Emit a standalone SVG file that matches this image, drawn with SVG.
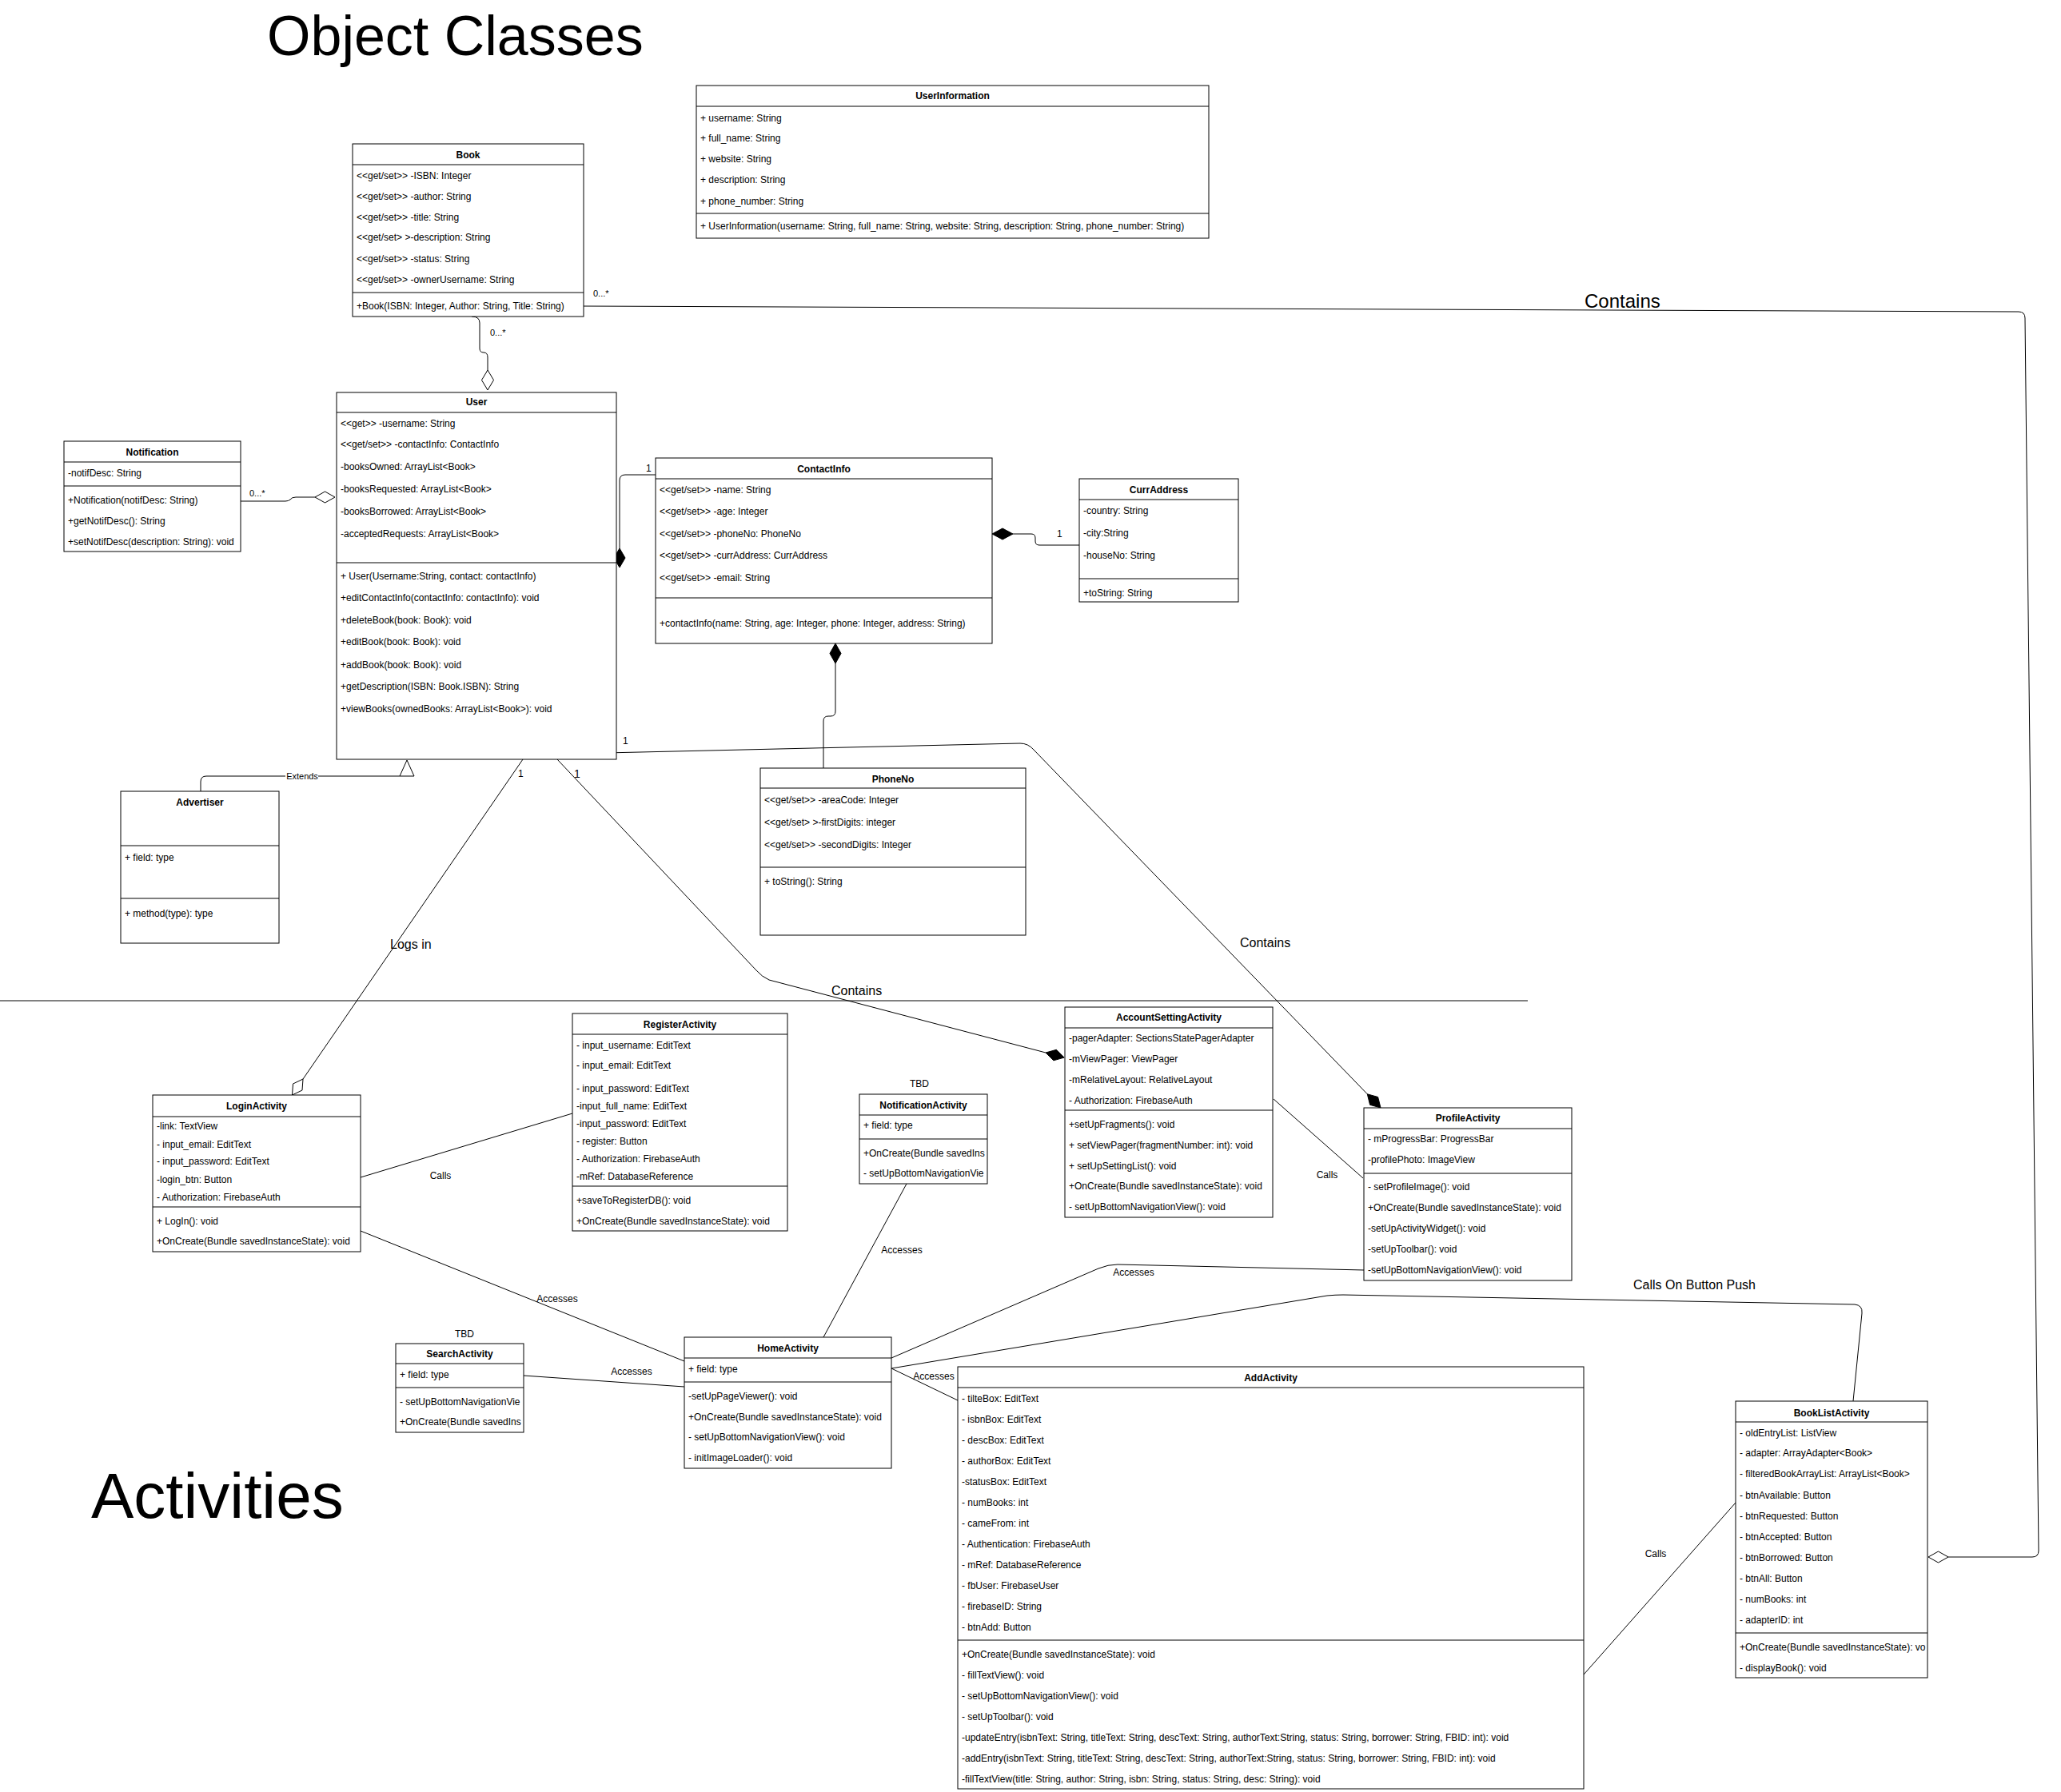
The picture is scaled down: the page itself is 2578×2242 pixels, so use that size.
<svg xmlns="http://www.w3.org/2000/svg" width="2578" height="2242" viewBox="0 0 2578 2242">
<style>
text{font-family:"Liberation Sans",Arial,Helvetica,sans-serif;font-size:12px;fill:#000}
.h{font-weight:bold;text-anchor:middle}
.m{text-anchor:middle}
.b{fill:#fff;stroke:#000;stroke-width:1}
.s{stroke:#000;stroke-width:1}
.e{fill:none;stroke:#000;stroke-width:1}
.od{fill:#fff;stroke:#000;stroke-width:1}
.fd{fill:#000;stroke:#000;stroke-width:1}
.big{font-size:16px}
.sm{font-size:11px}
</style>
<defs>
<clipPath id="cpBL"><rect x="2171" y="1753" width="240" height="346"/></clipPath>
<clipPath id="cpNA"><rect x="1075" y="1369" width="160" height="112"/></clipPath>
<clipPath id="cpSA"><rect x="495" y="1681" width="160" height="111"/></clipPath>
</defs>
<rect width="2578" height="2242" fill="#fff"/>

<text x="334" y="69" style="font-size:70px">Object Classes</text>
<text x="114" y="1899" style="font-size:80px">Activities</text>
<line class="s" x1="0" y1="1252" x2="1911" y2="1252"/>

<g id="connectors">
<path class="e" d="M590 396 Q600 396 600 404 L600 436 Q600 441 605 441 Q610 441 610 447 L610 463"/>
<polygon class="od" points="610,463 617.5,475.5 610,488 602.5,475.5"/>
<text class="sm" x="613" y="420">0...*</text>

<path class="e" d="M730 383 L2525 390 Q2533 390 2533 398 L2550 1940 Q2550 1948 2542 1948 L2437 1948"/>
<polygon class="od" points="2412,1948 2424.5,1941 2437,1948 2424.5,1955"/>
<text class="sm" x="742" y="371">0...*</text>
<text x="1982" y="385" style="font-size:24px">Contains</text>

<path class="e" d="M301 627 L357 627 Q361 627 363 625 Q365 622 370 622 L394 622"/>
<polygon class="od" points="394,622 406.5,615 419,622 406.5,629"/>
<text class="sm" x="312" y="621">0...*</text>

<path class="e" d="M775 686 L775 601 Q775 594 782 594 L820 594"/>
<polygon class="fd" points="775,686 782,698 775,710 768,698"/>
<text x="808" y="590">1</text>

<path class="e" d="M1267 668 L1290 668 Q1295 668 1295 673 L1295 677 Q1295 682 1300 682 L1350 682"/>
<polygon class="fd" points="1241,668 1254,661 1267,668 1254,675"/>
<text x="1322" y="672">1</text>

<path class="e" d="M1045 830 L1045 890 Q1045 896 1039 896 L1036 896 Q1030 896 1030 902 L1030 961"/>
<polygon class="fd" points="1045,805 1052,817.5 1045,830 1038,817.5"/>

<path class="e" d="M251 990 L251 978 Q251 971 258 971 L500 971"/>
<polygon class="od" points="509,951 518,971 500,971"/>
<rect x="357" y="965" width="41" height="13" fill="#fff"/>
<text class="sm m" x="378" y="975">Extends</text>

<path class="e" d="M654 950 L379 1350"/>
<polygon class="od" points="379,1350 378,1364 365.5,1370 366.5,1356"/>
<text class="big" x="488" y="1187">Logs in</text>
<text x="648" y="972">1</text>

<path class="e" d="M697 950 L946 1214 Q953 1222 962 1226 L1308 1317"/>
<polygon class="fd" points="1308,1317 1317.8,1326.8 1331.2,1323.1 1321.4,1313.3"/>
<text class="big" x="1040" y="1245">Contains</text>
<text x="718" y="973" style="font-size:14px">1</text>

<path class="e" d="M757 942 L1276 930 Q1286 930 1293 938 L1710.3 1368.8"/>
<polygon class="fd" points="1710.3,1368.8 1713.6,1382.3 1727,1386 1723.6,1372.5"/>
<text x="779" y="931">1</text>
<text class="big" x="1551" y="1185">Contains</text>

<path class="e" d="M451 1473 L716 1393"/>
<text class="m" x="551" y="1475">Calls</text>

<path class="e" d="M451 1540 L856 1703"/>
<text class="m" x="697" y="1629">Accesses</text>

<path class="e" d="M1147 1457 L1030 1673"/>
<text class="m" x="1128" y="1568">Accesses</text>

<path class="e" d="M655 1721 L856 1735"/>
<text class="m" x="790" y="1720">Accesses</text>

<path class="e" d="M1593 1375 L1705 1474"/>
<text class="m" x="1660" y="1474">Calls</text>

<path class="e" d="M1706 1589 L1398 1582 Q1386 1582 1374 1587 L1115 1699"/>
<text class="m" x="1418" y="1596">Accesses</text>

<path class="e" d="M1115 1712 L1660 1621 Q1670 1620 1680 1620 L2320 1632 Q2330 1633 2329 1643 L2318 1753"/>
<text class="big" x="2043" y="1613">Calls On Button Push</text>

<path class="e" d="M1115 1712 L1198 1752"/>
<text class="m" x="1168" y="1726">Accesses</text>

<path class="e" d="M1981 2095 L2171 1880"/>
<text class="m" x="2071" y="1948">Calls</text>
</g>

<g id="book">
<rect class="b" x="441" y="180" width="289" height="216"/>
<line class="s" x1="441" y1="206" x2="730" y2="206"/>
<line class="s" x1="441" y1="366" x2="730" y2="366"/>
<text class="h" x="585.5" y="198">Book</text>
<text x="446" y="224">&lt;&lt;get/set&gt;&gt; -ISBN: Integer</text>
<text x="446" y="250">&lt;&lt;get/set&gt;&gt; -author: String</text>
<text x="446" y="276">&lt;&lt;get/set&gt;&gt; -title: String</text>
<text x="446" y="301">&lt;&lt;get/set&gt; &gt;-description: String</text>
<text x="446" y="328">&lt;&lt;get/set&gt;&gt; -status: String</text>
<text x="446" y="354">&lt;&lt;get/set&gt;&gt; -ownerUsername: String</text>
<text x="446" y="387">+Book(ISBN: Integer, Author: String, Title: String)</text>
</g>

<g id="userinformation">
<rect class="b" x="871" y="107" width="641" height="191"/>
<line class="s" x1="871" y1="133" x2="1512" y2="133"/>
<line class="s" x1="871" y1="267" x2="1512" y2="267"/>
<text class="h" x="1191.5" y="124">UserInformation</text>
<text x="876" y="152">+ username: String</text>
<text x="876" y="177">+ full_name: String</text>
<text x="876" y="203">+ website: String</text>
<text x="876" y="229">+ description: String</text>
<text x="876" y="256">+ phone_number: String</text>
<text x="876" y="287">+ UserInformation(username: String, full_name: String, website: String, description: String, phone_number: String)</text>
</g>

<g id="user">
<rect class="b" x="421" y="491" width="350" height="459"/>
<line class="s" x1="421" y1="516" x2="771" y2="516"/>
<line class="s" x1="421" y1="704" x2="771" y2="704"/>
<text class="h" x="596" y="507">User</text>
<text x="426" y="534">&lt;&lt;get&gt;&gt; -username: String</text>
<text x="426" y="560">&lt;&lt;get/set&gt;&gt; -contactInfo: ContactInfo</text>
<text x="426" y="588">-booksOwned: ArrayList&lt;Book&gt;</text>
<text x="426" y="616">-booksRequested: ArrayList&lt;Book&gt;</text>
<text x="426" y="644">-booksBorrowed: ArrayList&lt;Book&gt;</text>
<text x="426" y="672">-acceptedRequests: ArrayList&lt;Book&gt;</text>
<text x="426" y="725">+ User(Username:String, contact: contactInfo)</text>
<text x="426" y="752">+editContactInfo(contactInfo: contactInfo): void</text>
<text x="426" y="780">+deleteBook(book: Book): void</text>
<text x="426" y="807">+editBook(book: Book): void</text>
<text x="426" y="836">+addBook(book: Book): void</text>
<text x="426" y="863">+getDescription(ISBN: Book.ISBN): String</text>
<text x="426" y="891">+viewBooks(ownedBooks: ArrayList&lt;Book&gt;): void</text>
</g>

<g id="notification">
<rect class="b" x="80" y="552" width="221" height="138"/>
<line class="s" x1="80" y1="578" x2="301" y2="578"/>
<line class="s" x1="80" y1="608" x2="301" y2="608"/>
<text class="h" x="190.5" y="570">Notification</text>
<text x="85" y="596">-notifDesc: String</text>
<text x="85" y="630">+Notification(notifDesc: String)</text>
<text x="85" y="656">+getNotifDesc(): String</text>
<text x="85" y="682">+setNotifDesc(description: String): void</text>
</g>

<g id="contactinfo">
<rect class="b" x="820" y="573" width="421" height="232"/>
<line class="s" x1="820" y1="599" x2="1241" y2="599"/>
<line class="s" x1="820" y1="748" x2="1241" y2="748"/>
<text class="h" x="1030.5" y="591">ContactInfo</text>
<text x="825" y="617">&lt;&lt;get/set&gt;&gt; -name: String</text>
<text x="825" y="644">&lt;&lt;get/set&gt;&gt; -age: Integer</text>
<text x="825" y="672">&lt;&lt;get/set&gt;&gt; -phoneNo: PhoneNo</text>
<text x="825" y="699">&lt;&lt;get/set&gt;&gt; -currAddress: CurrAddress</text>
<text x="825" y="727">&lt;&lt;get/set&gt;&gt; -email: String</text>
<text x="825" y="784">+contactInfo(name: String, age: Integer, phone: Integer, address: String)</text>
</g>

<g id="curraddress">
<rect class="b" x="1350" y="599" width="199" height="154"/>
<line class="s" x1="1350" y1="625" x2="1549" y2="625"/>
<line class="s" x1="1350" y1="724" x2="1549" y2="724"/>
<text class="h" x="1449.5" y="617">CurrAddress</text>
<text x="1355" y="643">-country: String</text>
<text x="1355" y="671">-city:String</text>
<text x="1355" y="699">-houseNo: String</text>
<text x="1355" y="746">+toString: String</text>
</g>

<g id="phoneno">
<rect class="b" x="951" y="961" width="332" height="209"/>
<line class="s" x1="951" y1="986" x2="1283" y2="986"/>
<line class="s" x1="951" y1="1085" x2="1283" y2="1085"/>
<text class="h" x="1117" y="979">PhoneNo</text>
<text x="956" y="1005">&lt;&lt;get/set&gt;&gt; -areaCode: Integer</text>
<text x="956" y="1033">&lt;&lt;get/set&gt; &gt;-firstDigits: integer</text>
<text x="956" y="1061">&lt;&lt;get/set&gt;&gt; -secondDigits: Integer</text>
<text x="956" y="1107">+ toString(): String</text>
</g>

<g id="advertiser">
<rect class="b" x="151" y="990" width="198" height="190"/>
<line class="s" x1="151" y1="1058" x2="349" y2="1058"/>
<line class="s" x1="151" y1="1124" x2="349" y2="1124"/>
<text class="h" x="250" y="1008">Advertiser</text>
<text x="156" y="1077">+ field: type</text>
<text x="156" y="1147">+ method(type): type</text>
</g>

<g id="loginactivity">
<rect class="b" x="191" y="1370" width="260" height="196"/>
<line class="s" x1="191" y1="1397" x2="451" y2="1397"/>
<line class="s" x1="191" y1="1510" x2="451" y2="1510"/>
<text class="h" x="321" y="1388">LoginActivity</text>
<text x="196" y="1413">-link: TextView</text>
<text x="196" y="1436">- input_email: EditText</text>
<text x="196" y="1457">- input_password: EditText</text>
<text x="196" y="1480">-login_btn: Button</text>
<text x="196" y="1502">- Authorization: FirebaseAuth</text>
<text x="196" y="1532">+ LogIn(): void</text>
<text x="196" y="1557">+OnCreate(Bundle savedInstanceState): void</text>
</g>

<g id="registeractivity">
<rect class="b" x="716" y="1268" width="269" height="272"/>
<line class="s" x1="716" y1="1294" x2="985" y2="1294"/>
<line class="s" x1="716" y1="1484" x2="985" y2="1484"/>
<text class="h" x="850.5" y="1286">RegisterActivity</text>
<text x="721" y="1312">- input_username: EditText</text>
<text x="721" y="1337">- input_email: EditText</text>
<text x="721" y="1366">- input_password: EditText</text>
<text x="721" y="1388">-input_full_name: EditText</text>
<text x="721" y="1410">-input_password: EditText</text>
<text x="721" y="1432">- register: Button</text>
<text x="721" y="1454">- Authorization: FirebaseAuth</text>
<text x="721" y="1476">-mRef: DatabaseReference</text>
<text x="721" y="1506">+saveToRegisterDB(): void</text>
<text x="721" y="1532">+OnCreate(Bundle savedInstanceState): void</text>
</g>

<g id="notificationactivity">
<text class="m" x="1150" y="1360">TBD</text>
<rect class="b" x="1075" y="1369" width="160" height="112"/>
<line class="s" x1="1075" y1="1395" x2="1235" y2="1395"/>
<line class="s" x1="1075" y1="1425" x2="1235" y2="1425"/>
<text class="h" x="1155" y="1387">NotificationActivity</text>
<g clip-path="url(#cpNA)">
<text x="1080" y="1412">+ field: type</text>
<text x="1080" y="1447">+OnCreate(Bundle savedIns</text>
<text x="1080" y="1472">- setUpBottomNavigationVie</text>
</g>
</g>

<g id="accountsettingactivity">
<rect class="b" x="1332" y="1260" width="260" height="263"/>
<line class="s" x1="1332" y1="1286" x2="1592" y2="1286"/>
<line class="s" x1="1332" y1="1389" x2="1592" y2="1389"/>
<text class="h" x="1462" y="1277">AccountSettingActivity</text>
<text x="1337" y="1303">-pagerAdapter: SectionsStatePagerAdapter</text>
<text x="1337" y="1329">-mViewPager: ViewPager</text>
<text x="1337" y="1355">-mRelativeLayout: RelativeLayout</text>
<text x="1337" y="1381">- Authorization: FirebaseAuth</text>
<text x="1337" y="1411">+setUpFragments(): void</text>
<text x="1337" y="1437">+ setViewPager(fragmentNumber: int): void</text>
<text x="1337" y="1463">+ setUpSettingList(): void</text>
<text x="1337" y="1488">+OnCreate(Bundle savedInstanceState): void</text>
<text x="1337" y="1514">- setUpBottomNavigationView(): void</text>
</g>

<g id="profileactivity">
<rect class="b" x="1706" y="1386" width="260" height="216"/>
<line class="s" x1="1706" y1="1412" x2="1966" y2="1412"/>
<line class="s" x1="1706" y1="1468" x2="1966" y2="1468"/>
<text class="h" x="1836" y="1403">ProfileActivity</text>
<text x="1711" y="1429">- mProgressBar: ProgressBar</text>
<text x="1711" y="1455">-profilePhoto: ImageView</text>
<text x="1711" y="1489">- setProfileImage(): void</text>
<text x="1711" y="1515">+OnCreate(Bundle savedInstanceState): void</text>
<text x="1711" y="1541">-setUpActivityWidget(): void</text>
<text x="1711" y="1567">-setUpToolbar(): void</text>
<text x="1711" y="1593">-setUpBottomNavigationView(): void</text>
</g>

<g id="searchactivity">
<text class="m" x="581" y="1673">TBD</text>
<rect class="b" x="495" y="1681" width="160" height="111"/>
<line class="s" x1="495" y1="1706" x2="655" y2="1706"/>
<line class="s" x1="495" y1="1736" x2="655" y2="1736"/>
<text class="h" x="575" y="1698">SearchActivity</text>
<g clip-path="url(#cpSA)">
<text x="500" y="1724">+ field: type</text>
<text x="500" y="1758">- setUpBottomNavigationVie</text>
<text x="500" y="1783">+OnCreate(Bundle savedIns</text>
</g>
</g>

<g id="homeactivity">
<rect class="b" x="856" y="1673" width="259" height="164"/>
<line class="s" x1="856" y1="1699" x2="1115" y2="1699"/>
<line class="s" x1="856" y1="1729" x2="1115" y2="1729"/>
<text class="h" x="985.5" y="1691">HomeActivity</text>
<text x="861" y="1717">+ field: type</text>
<text x="861" y="1751">-setUpPageViewer(): void</text>
<text x="861" y="1777">+OnCreate(Bundle savedInstanceState): void</text>
<text x="861" y="1802">- setUpBottomNavigationView(): void</text>
<text x="861" y="1828">- initImageLoader(): void</text>
</g>

<g id="addactivity">
<rect class="b" x="1198" y="1710" width="783" height="528"/>
<line class="s" x1="1198" y1="1736" x2="1981" y2="1736"/>
<line class="s" x1="1198" y1="2052" x2="1981" y2="2052"/>
<text class="h" x="1589.5" y="1728">AddActivity</text>
<text x="1203" y="1754">- tilteBox: EditText</text>
<text x="1203" y="1780">- isbnBox: EditText</text>
<text x="1203" y="1806">- descBox: EditText</text>
<text x="1203" y="1832">- authorBox: EditText</text>
<text x="1203" y="1858">-statusBox: EditText</text>
<text x="1203" y="1884">- numBooks: int</text>
<text x="1203" y="1910">- cameFrom: int</text>
<text x="1203" y="1936">- Authentication: FirebaseAuth</text>
<text x="1203" y="1962">- mRef: DatabaseReference</text>
<text x="1203" y="1988">- fbUser: FirebaseUser</text>
<text x="1203" y="2014">- firebaseID: String</text>
<text x="1203" y="2040">- btnAdd: Button</text>
<text x="1203" y="2074">+OnCreate(Bundle savedInstanceState): void</text>
<text x="1203" y="2100">- fillTextView(): void</text>
<text x="1203" y="2126">- setUpBottomNavigationView(): void</text>
<text x="1203" y="2152">- setUpToolbar(): void</text>
<text x="1203" y="2178">-updateEntry(isbnText: String, titleText: String, descText: String, authorText:String, status: String, borrower: String, FBID: int): void</text>
<text x="1203" y="2204">-addEntry(isbnText: String, titleText: String, descText: String, authorText:String, status: String, borrower: String, FBID: int): void</text>
<text x="1203" y="2230">-fillTextView(title: String, author: String, isbn: String, status: String, desc: String): void</text>
</g>

<g id="booklistactivity">
<rect class="b" x="2171" y="1753" width="240" height="346"/>
<line class="s" x1="2171" y1="1779" x2="2411" y2="1779"/>
<line class="s" x1="2171" y1="2043" x2="2411" y2="2043"/>
<text class="h" x="2291" y="1772">BookListActivity</text>
<g clip-path="url(#cpBL)">
<text x="2176" y="1797">- oldEntryList: ListView</text>
<text x="2176" y="1822">- adapter: ArrayAdapter&lt;Book&gt;</text>
<text x="2176" y="1848">- filteredBookArrayList: ArrayList&lt;Book&gt;</text>
<text x="2176" y="1875">- btnAvailable: Button</text>
<text x="2176" y="1901">- btnRequested: Button</text>
<text x="2176" y="1927">- btnAccepted: Button</text>
<text x="2176" y="1953">- btnBorrowed: Button</text>
<text x="2176" y="1979">- btnAll: Button</text>
<text x="2176" y="2005">- numBooks: int</text>
<text x="2176" y="2031">- adapterID: int</text>
<text x="2176" y="2065">+OnCreate(Bundle savedInstanceState): vo</text>
<text x="2176" y="2091">- displayBook(): void</text>
</g>
</g>
</svg>
